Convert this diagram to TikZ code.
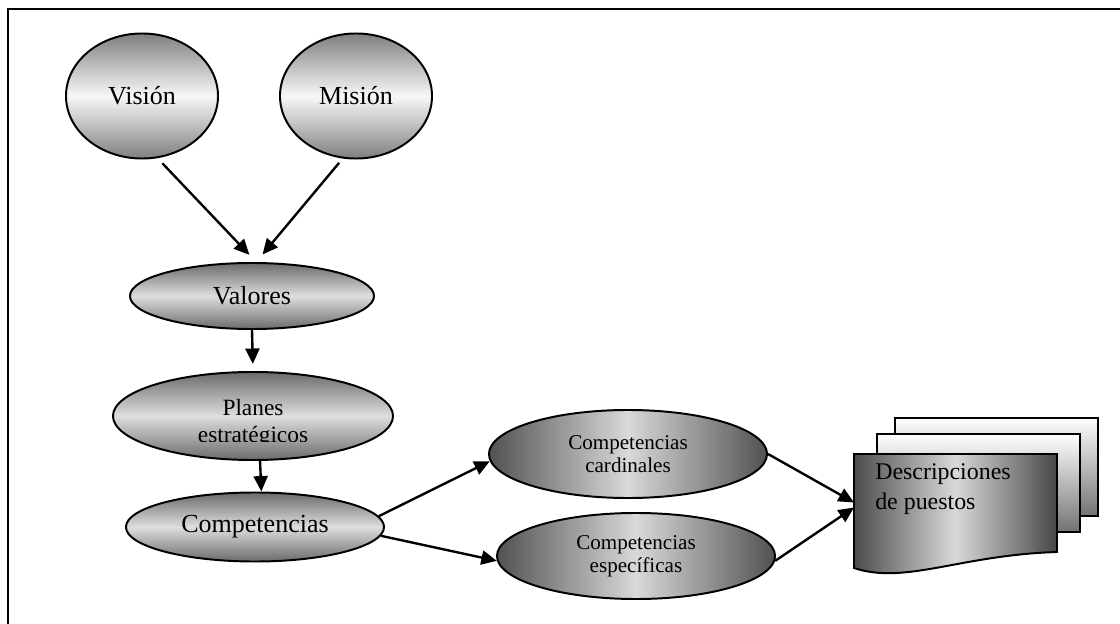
\documentclass[tikz,border=0pt]{standalone}
\usepackage{fontspec}
\setmainfont{Liberation Serif}
\usetikzlibrary{shapes.geometric,arrows.meta}
\newcommand{\bigtxt}{\fontsize{18.5}{22}\selectfont}
\newcommand{\midtxt}{\fontsize{16.6}{19.2}\selectfont}
\newcommand{\smalltxt}{\fontsize{15}{16.4}\selectfont}
\newcommand{\doctxt}{\fontsize{17}{21}\selectfont}

\begin{document}
\begin{tikzpicture}[x=0.025cm,y=-0.025cm,
		oval/.style={ellipse,draw,line width=1.4pt,inner sep=0pt},
		circshade/.style={top color=black!50,bottom color=black!50,middle color=black!3},
		ovshade/.style={top color=black!58,bottom color=black!58,middle color=black!13},
		sideshade/.style={left color=black!68,right color=black!68,middle color=black!15},
		arr/.style={-{Triangle[length=11pt,width=10pt]},line width=1.7pt}]
				\useasboundingbox (0,0) rectangle (1120,624);
				\draw [line width=1.5pt](8,640)--(8,9)--(1140,9);
				
				\node [oval,circshade,minimum width=3.8cm,minimum height=3.125cm,font=\bigtxt](vision) at (142,96){Visión};
				\node [oval,circshade,minimum width=3.8cm,minimum height=3.125cm,font=\bigtxt](mision) at (356,96){Misión};
				\node [oval,ovshade,minimum width=6.1cm,minimum height=1.65cm,font=\bigtxt](valores) at (252,296){Valores};
				\node [oval,ovshade,minimum width=7cm,minimum height=2.2cm](planes) at (253,416){};
				\begin{scope}
					\clip (100,370) rectangle (400,441);
					\node [font=\midtxt,align=center](planestxt) at (253,423){Planes\\estratégicos};
				\end{scope}
				\node [oval,ovshade,minimum width=6.45cm,minimum height=1.725cm,font=\bigtxt](comp) at (255,527){Competencias};
				\node [oval,sideshade,minimum width=6.95cm,minimum height=2.2cm,font=\smalltxt,align=center](card) at (628,454){Competencias\\cardinales};
				\node [oval,sideshade,minimum width=6.95cm,minimum height=2.15cm,font=\smalltxt,align=center](espec) at (636,556){Competencias\\específicas};
				
				\draw [line width=1.4pt,top color=white,bottom color=black!55](895,418) rectangle (1098,516);
				\draw [line width=1.4pt,top color=white,bottom color=black!55](877,434) rectangle (1080,532);
				\draw [line width=1.4pt,left color=black!70,right color=black!72,middle color=black!15](854,454)--(1057,454)--(1057,552) .. controls (960,555) and (905,585) .. (854,568)--cycle;
				\coordinate (docin) at (854,505);
				\node [font=\doctxt,align=left,anchor=west,inner sep=0pt](desc) at (875,489){Descripciones\\de puestos};
				
				\draw [arr,shorten <=5pt,shorten >=7pt](vision.284)--([xshift=3pt]valores.north);
				\draw [arr,shorten <=4pt,shorten >=7pt](mision.258)--([xshift=3pt]valores.north);
				\draw [arr,shorten >=5pt](valores.south)--(planes.north);
				\draw [arr]([xshift=5pt]planes.south)--([xshift=4.5pt]comp.north);
				\draw [arr](comp.5)--(card.183);
				\draw [arr](comp.-4)--(espec.182);
				\draw [arr](card.east)--([yshift=1.8pt]docin);
				\draw [arr](espec.358)--([yshift=-1.8pt]docin);
				
			\end{tikzpicture}
\end{document}
